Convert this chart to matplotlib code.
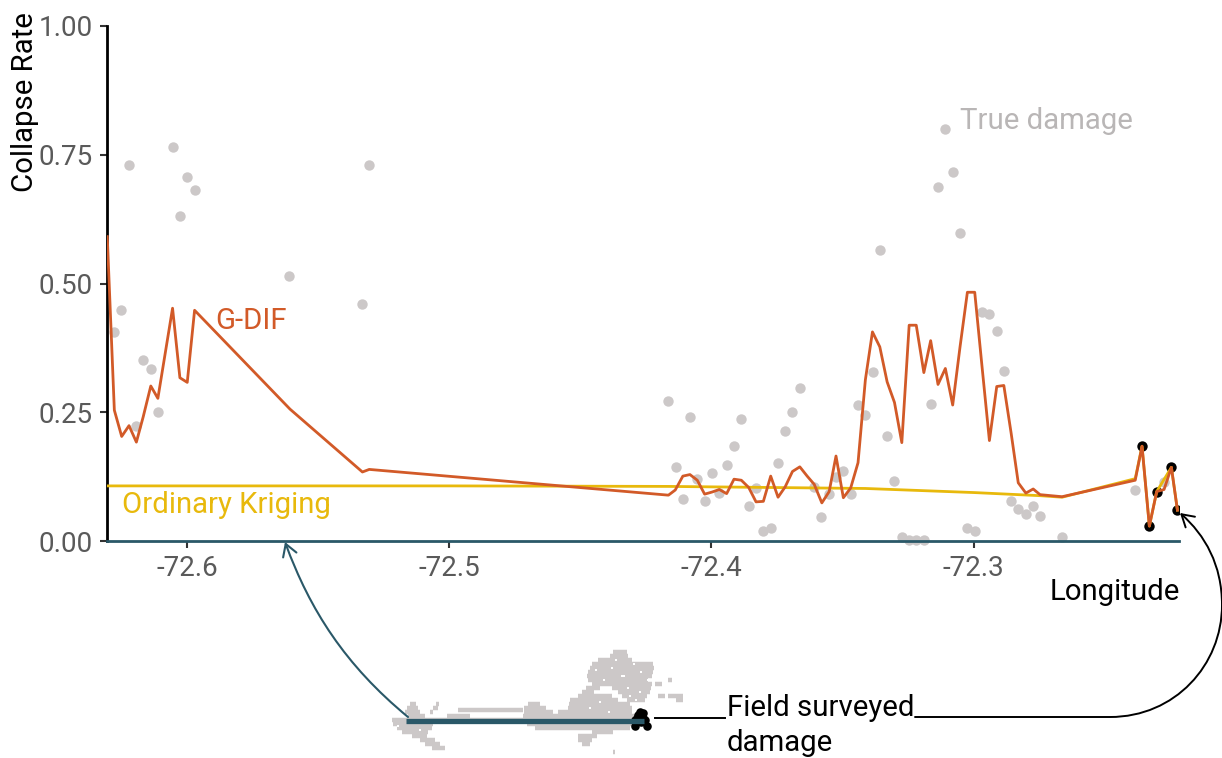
#!/usr/bin/env python
import numpy as np
import matplotlib
matplotlib.use('Agg')
import matplotlib.pyplot as plt
from matplotlib.path import Path
from matplotlib.patches import FancyArrowPatch

plt.rcParams['font.family'] = ['Roboto', 'DejaVu Sans']

#G-DIF estimate along longitude
gdif_lon = [-72.6304, -72.6277, -72.6249, -72.6221, -72.6193, -72.6167, -72.6138, -72.6111,
            -72.6055, -72.6027, -72.5999, -72.5971, -72.5607, -72.5331, -72.5305, -72.4164,
            -72.4138, -72.4109, -72.4082, -72.4054, -72.4026, -72.3998, -72.3970, -72.3942,
            -72.3914, -72.3886, -72.3858, -72.3830, -72.3802, -72.3774, -72.3746, -72.3719,
            -72.3691, -72.3663, -72.3635, -72.3608, -72.3579, -72.3551, -72.3525, -72.3497,
            -72.3469, -72.3441, -72.3413, -72.3386, -72.3358, -72.3330, -72.3302, -72.3274,
            -72.3246, -72.3219, -72.3190, -72.3164, -72.3136, -72.3108, -72.3080, -72.3052,
            -72.3024, -72.2996, -72.2968, -72.2940, -72.2912, -72.2885, -72.2857, -72.2830,
            -72.2801, -72.2773, -72.2747, -72.2663, -72.2384, -72.2358, -72.2330, -72.2302,
            -72.2274, -72.2246, -72.2223]
gdif_rate = [0.591, 0.254, 0.203, 0.224, 0.192, 0.241, 0.301, 0.277,
             0.452, 0.317, 0.308, 0.448, 0.256, 0.134, 0.139, 0.089,
             0.099, 0.126, 0.129, 0.118, 0.091, 0.095, 0.100, 0.092,
             0.120, 0.118, 0.104, 0.076, 0.077, 0.126, 0.085, 0.105,
             0.135, 0.144, 0.126, 0.110, 0.074, 0.096, 0.165, 0.084,
             0.103, 0.152, 0.313, 0.406, 0.377, 0.309, 0.269, 0.191,
             0.419, 0.419, 0.327, 0.389, 0.304, 0.335, 0.264, 0.377,
             0.483, 0.483, 0.338, 0.195, 0.300, 0.302, 0.209, 0.113,
             0.093, 0.101, 0.090, 0.086, 0.118, 0.184, 0.029, 0.096,
             0.100, 0.143, 0.060]

krig_lon = [-72.6304, -72.5, -72.4164, -72.3413, -72.2996, -72.2747, -72.2663, -72.2384,
            -72.2358, -72.2330, -72.2302, -72.2246, -72.2223]
krig_rate = [0.107, 0.107, 0.106, 0.102, 0.094, 0.088, 0.085, 0.121,
             0.184, 0.029, 0.096, 0.143, 0.060]

#field survey, true damage
true_lon = [-72.6222, -72.6055, -72.5999, -72.5971, -72.6027, -72.5305, -72.5611, -72.5331,
            -72.6251, -72.6277, -72.6167, -72.6138, -72.6111, -72.6193, -72.4164, -72.4082,
            -72.3886, -72.3663, -72.3691, -72.3719, -72.3914, -72.4136, -72.3942, -72.3998,
            -72.4054, -72.3747, -72.4109, -72.4026, -72.3970, -72.3858, -72.3830, -72.3802,
            -72.3774, -72.3609, -72.3581, -72.3553, -72.3525, -72.3497, -72.3469, -72.3441,
            -72.3413, -72.3385, -72.3330, -72.3302, -72.3274, -72.3358, -72.3108, -72.3080,
            -72.3136, -72.3052, -72.2968, -72.2940, -72.2912, -72.2885, -72.3164, -72.2857,
            -72.2830, -72.2801, -72.2773, -72.2747, -72.3024, -72.2996, -72.3246, -72.3219,
            -72.3190, -72.2384, -72.2274, -72.2663]
true_rate = [0.731, 0.766, 0.707, 0.681, 0.632, 0.731, 0.515, 0.460,
             0.448, 0.405, 0.352, 0.334, 0.251, 0.223, 0.271, 0.241,
             0.237, 0.297, 0.251, 0.213, 0.184, 0.144, 0.147, 0.133,
             0.121, 0.152, 0.081, 0.077, 0.094, 0.067, 0.102, 0.019,
             0.025, 0.105, 0.047, 0.091, 0.124, 0.135, 0.091, 0.264,
             0.245, 0.329, 0.204, 0.116, 0.008, 0.566, 0.800, 0.717,
             0.687, 0.599, 0.445, 0.441, 0.407, 0.331, 0.266, 0.077,
             0.063, 0.052, 0.067, 0.049, 0.026, 0.020, 0.002, 0.002,
             0.002, 0.100, 0.115, 0.008]

held_lon = [-72.2358, -72.2330, -72.2302, -72.2246, -72.2223]
held_rate = [0.184, 0.029, 0.096, 0.143, 0.060]

x_ticks = [-72.6, -72.5, -72.4, -72.3]
x_labels = ['-72.6', '-72.5', '-72.4', '-72.3']
y_ticks = [0, 0.25, 0.5, 0.75, 1]
y_labels = ['0.00', '0.25', '0.50', '0.75', '1.00']

#inset map, (row, start, end) in figure pixels
map_rows = [(652, 613, 627), (656, 610, 628), (660, 598, 632), (664, 592, 653), (668, 590, 654),
            (672, 588, 653), (676, 587, 652), (680, 588, 648), (684, 592, 652), (684, 655, 662),
            (688, 586, 600), (688, 612, 651), (692, 582, 594), (692, 618, 650), (696, 578, 612),
            (696, 622, 647), (696, 658, 665), (700, 570, 618), (700, 627, 645), (704, 569, 630),
            (704, 528, 540), (708, 568, 632), (708, 524, 546), (710, 458, 523), (712, 524, 553),
            (712, 558, 632), (716, 523, 640), (704, 410, 416), (704, 436, 439), (708, 407, 418),
            (708, 433, 438), (712, 405, 420), (712, 430, 433), (716, 408, 425), (716, 447, 470),
            (724, 393, 433), (724, 527, 635), (728, 397, 432), (728, 535, 630), (732, 402, 428),
            (732, 592, 613), (736, 412, 427), (736, 578, 597), (740, 420, 435), (740, 578, 592),
            (744, 425, 440), (744, 582, 590), (748, 432, 445), (720, 392, 640), (680, 668, 672),
            (696, 668, 683), (700, 676, 683), (752, 613, 615)]
map_holes_x = [612, 622, 634, 641, 648, 604, 628, 616, 640, 596, 600, 636, 590, 420, 398, 609, 624, 630]
map_holes_y = [668, 676, 664, 672, 680, 680, 688, 660, 692, 670, 702, 700, 708, 730, 726, 712, 676, 696]
map_pts_x = [638, 643, 635, 641, 647, 635, 645, 640, 637, 643]
map_pts_y = [715, 713, 720, 722, 726, 726, 720, 712, 718, 718]

gray = '#ccc8c8'
orange = '#d25a28'
yellow = '#e8b90c'
teal = '#2a5868'

fig = plt.figure(figsize=(12.22, 7.58), dpi=100)
ax = fig.add_axes([107/1222, (758-541)/758, 1072/1222, 515/758])

ax.scatter(true_lon, true_rate, s=56, color=gray, linewidths=0, zorder=2, clip_on=False)
ax.scatter(held_lon, held_rate, s=56, color='k', linewidths=0, zorder=3)
ax.plot(krig_lon, krig_rate, color=yellow, lw=2.0, zorder=4)
ax.plot(gdif_lon, gdif_rate, color=orange, lw=2.0, zorder=5)

ax.set_xlim(-72.6305, -72.2217)
ax.set_ylim(0, 1)
ax.set_xticks(x_ticks)
ax.set_xticklabels(x_labels)
ax.set_yticks(y_ticks)
ax.set_yticklabels(y_labels)
ax.tick_params(labelsize=20, labelcolor='#5a5a5a', color='#333333', length=5, width=1.5, pad=5)
ax.spines['top'].set_visible(False)
ax.spines['right'].set_visible(False)
ax.spines['left'].set_linewidth(2.0)
ax.spines['left'].set_color('k')
ax.spines['bottom'].set_linewidth(2.0)
ax.spines['bottom'].set_color(teal)
ax.patch.set_alpha(0)

#overlay in pixels for the map and the annotations
ov = fig.add_axes([0, 0, 1, 1], zorder=-1)
ov.set_xlim(0, 1222)
ov.set_ylim(758, 0)
ov.axis('off')

for r, a, b in map_rows:
    ov.hlines(r, a, b, color=gray, lw=3.2)
ov.scatter(map_holes_x, map_holes_y, s=3, marker='s', color='w', linewidths=0, zorder=2)
ov.scatter(map_pts_x, map_pts_y, s=38, color='k', linewidths=0, zorder=3)
ov.plot([406, 644], [720.5, 720.5], color=teal, lw=3.8, solid_capstyle='butt', zorder=4)
ov.plot([655, 725], [717.5, 717.5], color='k', lw=1.4)

left_path = Path([(408, 717), (345, 665), (310, 610), (285, 542)],
                 [Path.MOVETO, Path.CURVE4, Path.CURVE4, Path.CURVE4])
ov.add_patch(FancyArrowPatch(path=left_path, arrowstyle='->,head_length=5,head_width=3',
                             color=teal, lw=1.5, mutation_scale=1.7, zorder=6, clip_on=False))
right_path = Path([(915, 717), (1110, 717), (1175, 717), (1222, 665), (1222, 605),
                   (1222, 565), (1205, 535), (1180, 513)],
                  [Path.MOVETO, Path.LINETO, Path.CURVE4, Path.CURVE4, Path.CURVE4,
                   Path.CURVE4, Path.CURVE4, Path.CURVE4])
ov.add_patch(FancyArrowPatch(path=right_path, arrowstyle='->,head_length=5,head_width=3',
                             color='k', lw=1.4, mutation_scale=1.7, zorder=6, clip_on=False))

ov.text(25, 192, 'Collapse Rate', rotation=90, fontsize=21.2, color='k', ha='center', va='bottom')
ov.text(960, 121, 'True damage', fontsize=21.2, color='#b9b6b6', ha='left', va='center')
ov.text(215, 321, 'G-DIF', fontsize=21.2, color=orange, ha='left', va='center')
ov.text(122, 505, 'Ordinary Kriging', fontsize=21.2, color=yellow, ha='left', va='center')
ov.text(1050, 592, 'Longitude', fontsize=21.2, color='k', ha='left', va='center')
ov.text(727, 708, 'Field surveyed', fontsize=21.2, color='k', ha='left', va='center')
ov.text(727, 743, 'damage', fontsize=21.2, color='k', ha='left', va='center')

plt.savefig('out.png', dpi=100)
